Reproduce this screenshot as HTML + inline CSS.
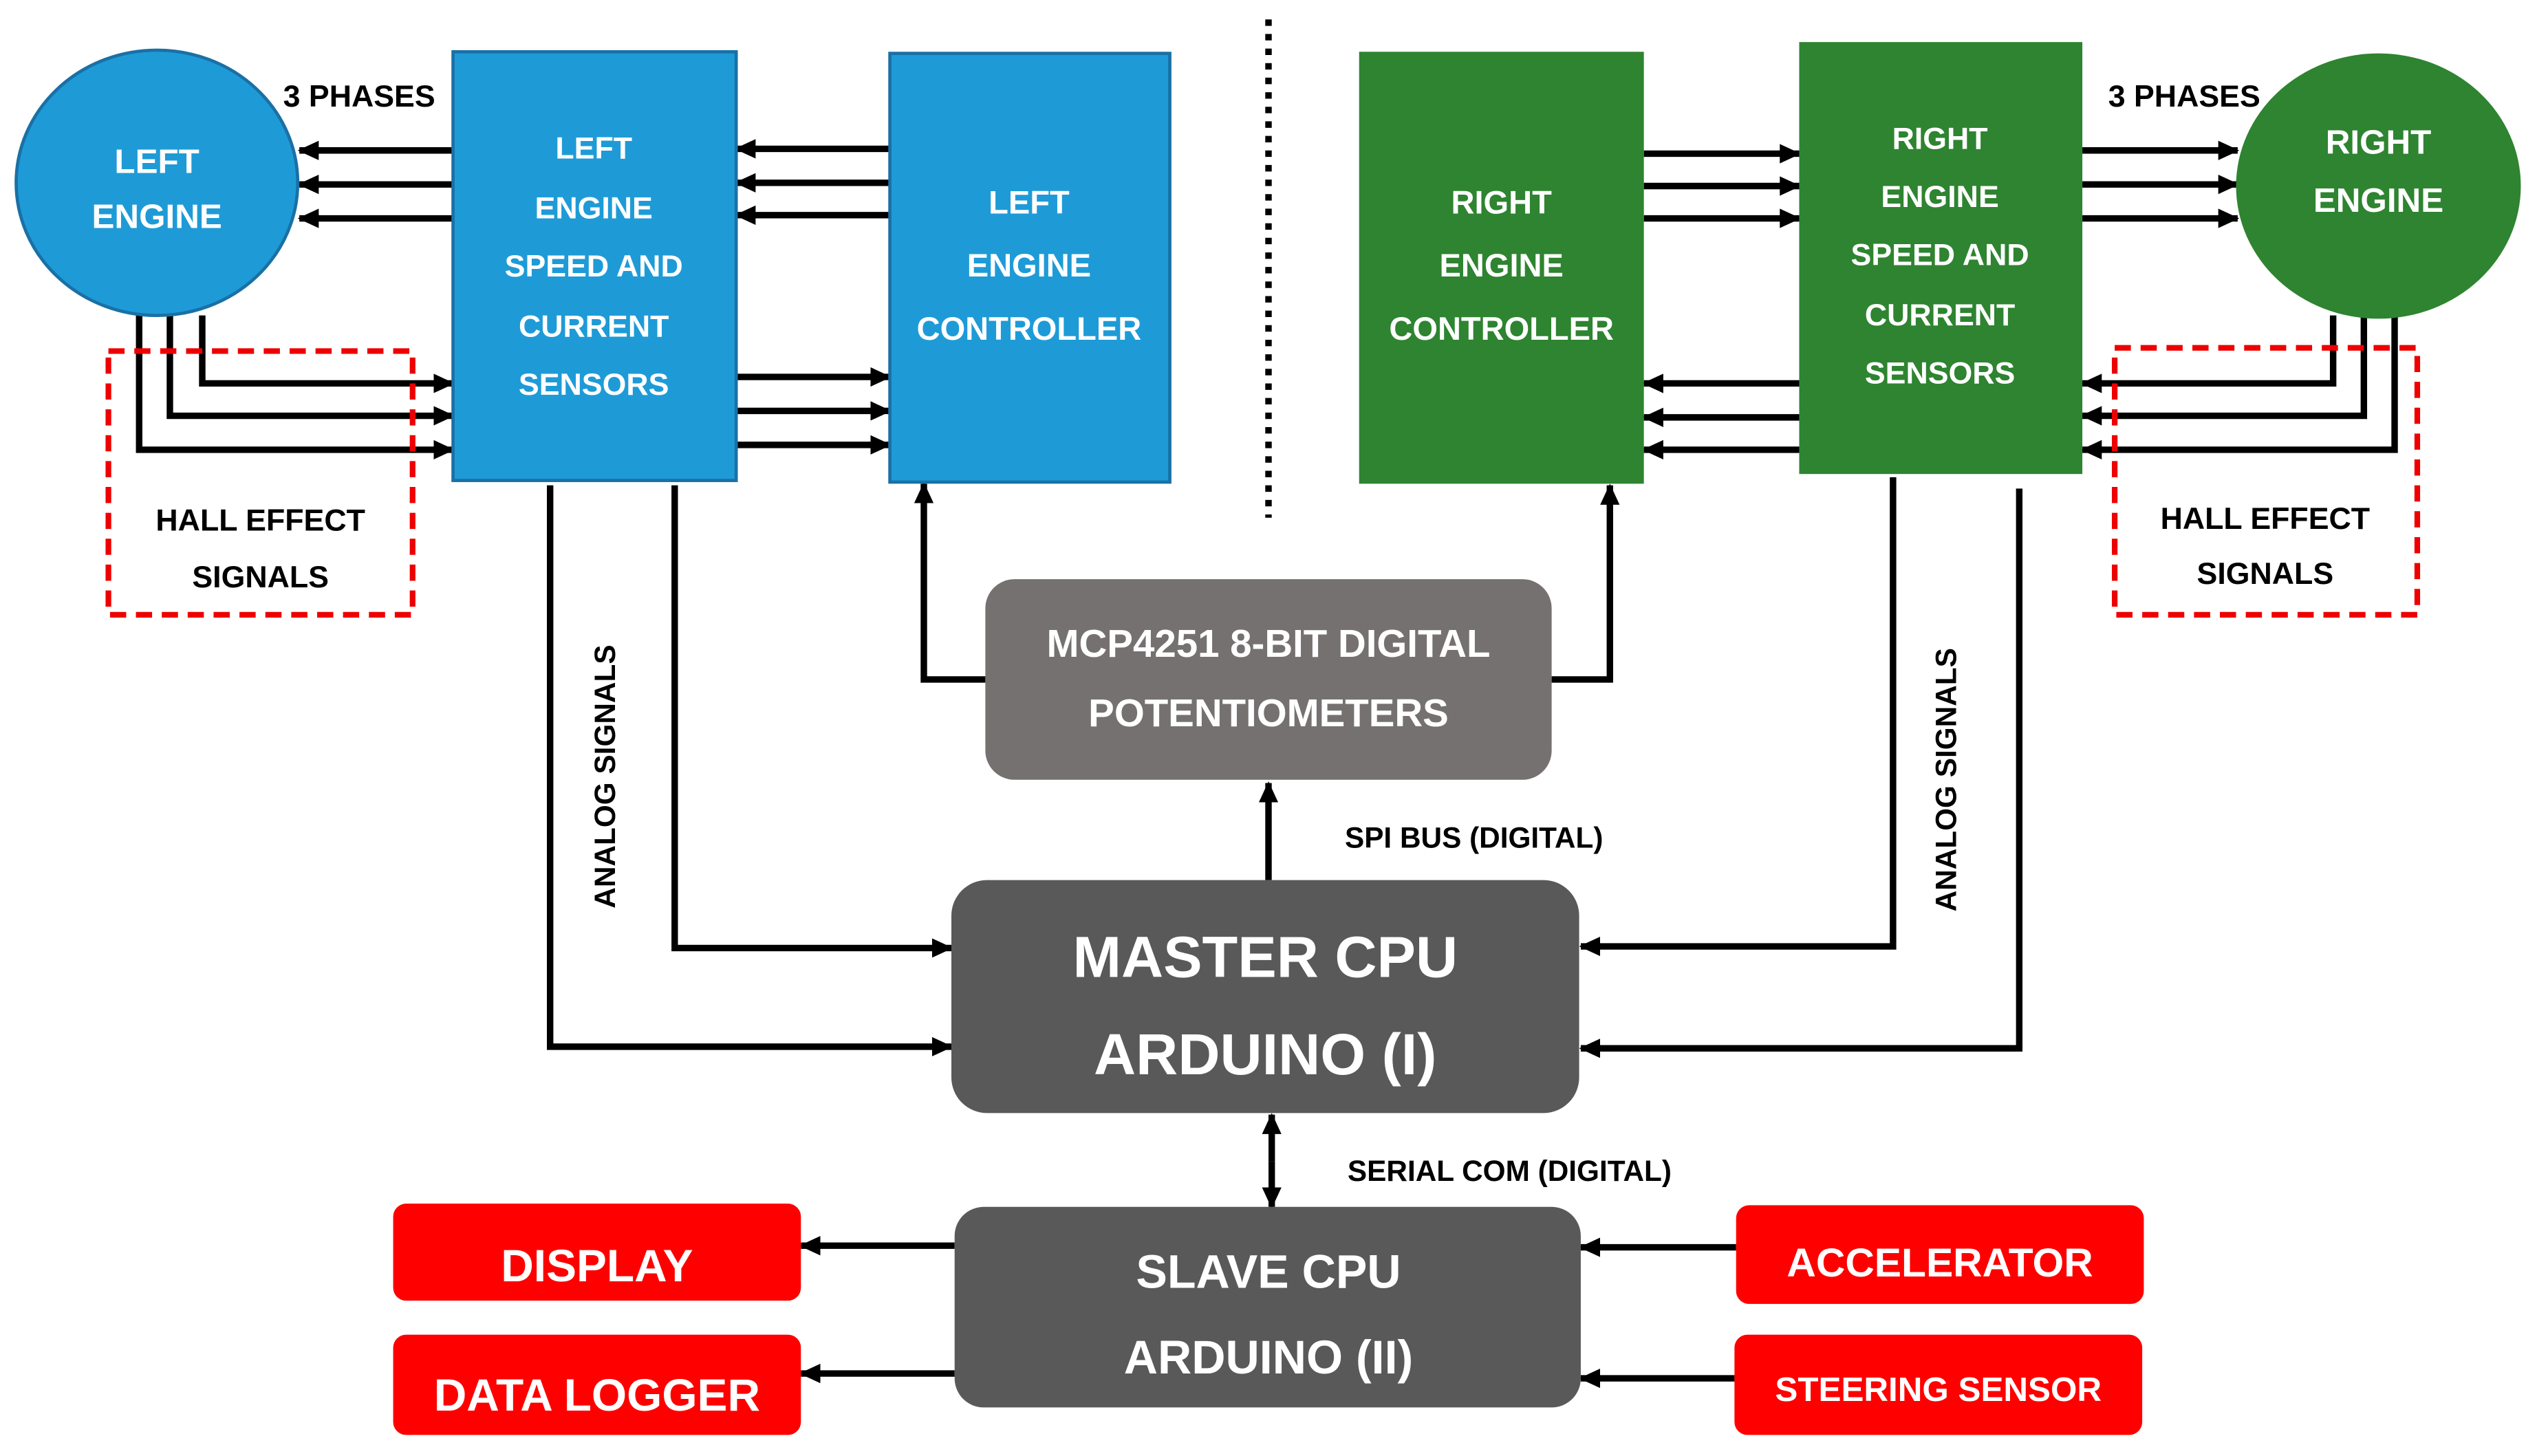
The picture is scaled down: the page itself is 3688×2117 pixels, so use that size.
<!DOCTYPE html>
<html><head><meta charset="utf-8"><style>
html,body{margin:0;padding:0;background:#fff;}
svg{display:block;}
text{font-family:"Liberation Sans",sans-serif;font-weight:bold;text-anchor:middle;}
.w{fill:#fff;}
.k{fill:#000;}
</style></head><body>
<svg width="3688" height="2117" viewBox="0 0 1568 900" preserveAspectRatio="none" xmlns="http://www.w3.org/2000/svg">
<defs>
<marker id="a" markerUnits="userSpaceOnUse" markerWidth="14" markerHeight="14" refX="12" refY="7" orient="auto">
<path d="M0,1 L13,7 L0,13 z" fill="#000"/>
</marker>
</defs>
<g stroke="#000" stroke-width="4" fill="none" marker-end="url(#a)">
<line x1="280" y1="93" x2="185" y2="93"/>
<line x1="280" y1="114" x2="185" y2="114"/>
<line x1="280" y1="135" x2="185" y2="135"/>
<line x1="550" y1="92" x2="455" y2="92"/>
<line x1="550" y1="113" x2="455" y2="113"/>
<line x1="550" y1="133" x2="455" y2="133"/>
<line x1="455" y1="233" x2="550" y2="233"/>
<line x1="455" y1="254" x2="550" y2="254"/>
<line x1="455" y1="275" x2="550" y2="275"/>
<polyline points="125,195 125,237 280,237"/>
<polyline points="105,195 105,257 280,257"/>
<polyline points="86,195 86,278 280,278"/>
<line x1="1016" y1="95" x2="1112" y2="95"/>
<line x1="1016" y1="115" x2="1112" y2="115"/>
<line x1="1016" y1="135" x2="1112" y2="135"/>
<line x1="1112" y1="237" x2="1016" y2="237"/>
<line x1="1112" y1="258" x2="1016" y2="258"/>
<line x1="1112" y1="278" x2="1016" y2="278"/>
<line x1="1287" y1="93" x2="1383" y2="93"/>
<line x1="1287" y1="114" x2="1383" y2="114"/>
<line x1="1287" y1="135" x2="1383" y2="135"/>
<polyline points="1442,195 1442,237 1287,237"/>
<polyline points="1461,195 1461,257 1287,257"/>
<polyline points="1480,195 1480,278 1287,278"/>
<polyline points="609,420 571,420 571,299"/>
<polyline points="959,420 995,420 995,300"/>
<line x1="784" y1="544" x2="784" y2="484"/>
<polyline points="417,300 417,586 588,586"/>
<polyline points="340,300 340,647 588,647"/>
<polyline points="1170,295 1170,585 977,585"/>
<polyline points="1248,302 1248,648 977,648"/>
<line x1="786" y1="718" x2="786" y2="746"/>
<line x1="786" y1="718" x2="786" y2="689"/>
<line x1="590" y1="770" x2="495" y2="770"/>
<line x1="590" y1="849" x2="495" y2="849"/>
<line x1="1073" y1="771" x2="977" y2="771"/>
<line x1="1072" y1="852" x2="977" y2="852"/>
</g>
<line x1="784" y1="12" x2="784" y2="320" stroke="#000" stroke-width="4" stroke-dasharray="4,5"/>
<ellipse cx="97" cy="113" rx="87" ry="82" fill="#1E9BD7" stroke="#1a70a5" stroke-width="2"/>
<text x="97" y="107" class="w" font-size="21">LEFT</text>
<text x="97" y="141" class="w" font-size="21">ENGINE</text>
<text x="222" y="66" class="k" font-size="19">3 PHASES</text>
<rect x="280" y="32" width="175" height="265" fill="#1E9BD7" stroke="#1a70a5" stroke-width="2"/>
<text x="367" y="98" class="w" font-size="19">LEFT</text>
<text x="367" y="135" class="w" font-size="19">ENGINE</text>
<text x="367" y="171" class="w" font-size="19">SPEED AND</text>
<text x="367" y="208" class="w" font-size="19">CURRENT</text>
<text x="367" y="244" class="w" font-size="19">SENSORS</text>
<rect x="550" y="33" width="173" height="265" fill="#1E9BD7" stroke="#1a70a5" stroke-width="2"/>
<text x="636" y="132" class="w" font-size="20">LEFT</text>
<text x="636" y="171" class="w" font-size="20">ENGINE</text>
<text x="636" y="210" class="w" font-size="20">CONTROLLER</text>
<rect x="67" y="217" width="188" height="163" fill="none" stroke="#E00" stroke-width="3.5" stroke-dasharray="10,6"/>
<text x="161" y="328" class="k" font-size="19">HALL EFFECT</text>
<text x="161" y="363" class="k" font-size="19">SIGNALS</text>
<rect x="840" y="32" width="176" height="267" fill="#2E8430"/>
<text x="928" y="132" class="w" font-size="20">RIGHT</text>
<text x="928" y="171" class="w" font-size="20">ENGINE</text>
<text x="928" y="210" class="w" font-size="20">CONTROLLER</text>
<rect x="1112" y="26" width="175" height="267" fill="#2E8430"/>
<text x="1199" y="92" class="w" font-size="19">RIGHT</text>
<text x="1199" y="128" class="w" font-size="19">ENGINE</text>
<text x="1199" y="164" class="w" font-size="19">SPEED AND</text>
<text x="1199" y="201" class="w" font-size="19">CURRENT</text>
<text x="1199" y="237" class="w" font-size="19">SENSORS</text>
<text x="1350" y="66" class="k" font-size="19">3 PHASES</text>
<ellipse cx="1470" cy="115" rx="88" ry="82" fill="#2E8430"/>
<text x="1470" y="95" class="w" font-size="21">RIGHT</text>
<text x="1470" y="131" class="w" font-size="21">ENGINE</text>
<rect x="1307" y="215" width="187" height="165" fill="none" stroke="#E00" stroke-width="3.5" stroke-dasharray="10,6"/>
<text x="1400" y="327" class="k" font-size="19">HALL EFFECT</text>
<text x="1400" y="361" class="k" font-size="19">SIGNALS</text>
<rect x="609" y="358" width="350" height="124" rx="18" fill="#767171"/>
<text x="784" y="406" class="w" font-size="24">MCP4251 8-BIT DIGITAL</text>
<text x="784" y="449" class="w" font-size="24">POTENTIOMETERS</text>
<text x="911" y="524" class="k" font-size="18">SPI BUS (DIGITAL)</text>
<rect x="588" y="544" width="388" height="144" rx="22" fill="#595959"/>
<text x="782" y="604" class="w" font-size="36">MASTER CPU</text>
<text x="782" y="664" class="w" font-size="36">ARDUINO (I)</text>
<text transform="translate(380,480) rotate(-90)" class="k" font-size="18">ANALOG SIGNALS</text>
<text transform="translate(1209,482) rotate(-90)" class="k" font-size="18">ANALOG SIGNALS</text>
<text x="933" y="730" class="k" font-size="18">SERIAL COM (DIGITAL)</text>
<rect x="590" y="746" width="387" height="124" rx="18" fill="#595959"/>
<text x="784" y="796" class="w" font-size="29">SLAVE CPU</text>
<text x="784" y="849" class="w" font-size="29">ARDUINO (II)</text>
<rect x="243" y="744" width="252" height="60" rx="8" fill="#FF0000"/>
<text x="369" y="792" class="w" font-size="28">DISPLAY</text>
<rect x="243" y="825" width="252" height="62" rx="8" fill="#FF0000"/>
<text x="369" y="872" class="w" font-size="28">DATA LOGGER</text>
<rect x="1073" y="745" width="252" height="61" rx="8" fill="#FF0000"/>
<text x="1199" y="789" class="w" font-size="25">ACCELERATOR</text>
<rect x="1072" y="825" width="252" height="62" rx="8" fill="#FF0000"/>
<text x="1198" y="866" class="w" font-size="21">STEERING SENSOR</text>
</svg>
</body></html>
